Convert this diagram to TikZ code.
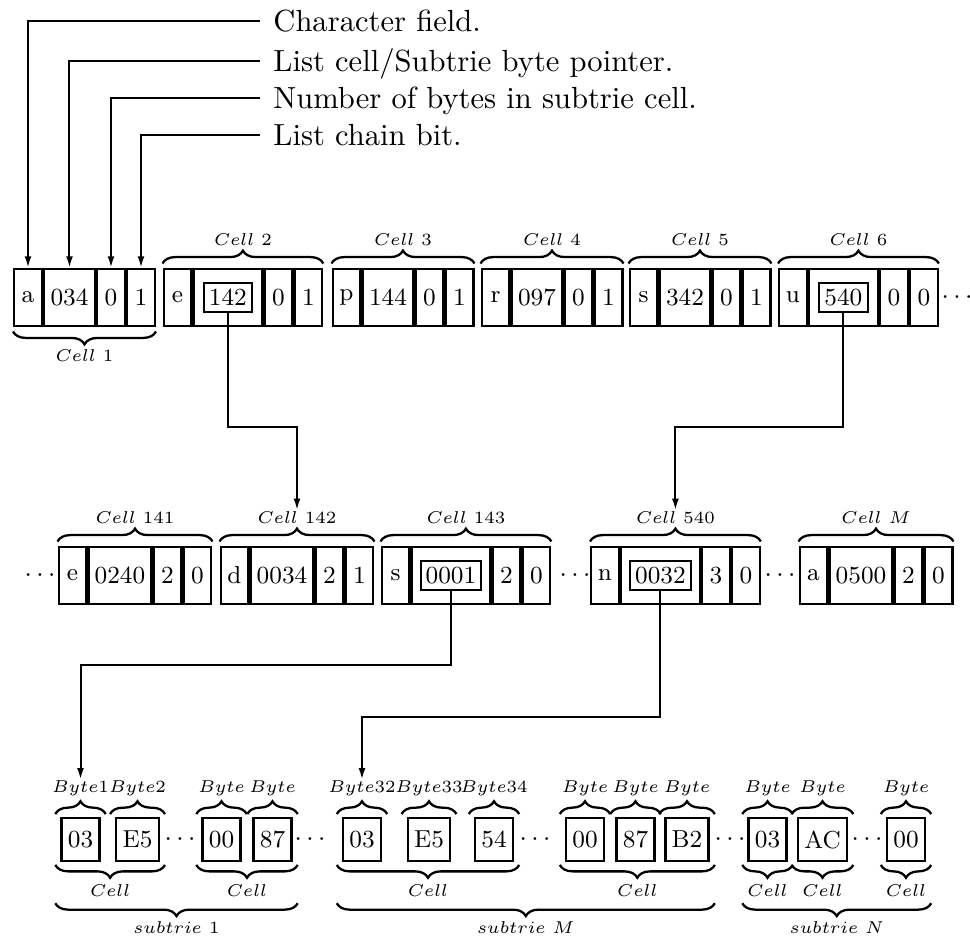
\documentclass[tikz,border=0pt]{standalone}
\usepackage{tikz}
\usetikzlibrary{arrows.meta,positioning,decorations.pathreplacing}

\begin{document}
\begin{tikzpicture}[
  x=0.35pt, y=-0.35pt,
  fld/.style={draw,line width=0.8pt,minimum height=20pt,inner sep=0pt,font=\fontsize{8.6}{10}\selectfont},
  chr/.style={fld,minimum width=9.7pt},
  ptr/.style={fld,minimum width=17.75pt},
  ptrw/.style={fld,minimum width=24pt},
  lptr/.style={fld,minimum width=21.95pt},
  lptrw/.style={fld,minimum width=27.5pt},
  inbox/.style={draw,line width=0.8pt,minimum width=17pt,minimum height=10pt,inner sep=0pt,font=\fontsize{8.6}{10}\selectfont},
  byte/.style={draw,line width=0.8pt,minimum width=13.2pt,minimum height=15pt,inner xsep=2.2pt,font=\fontsize{8.6}{10}\selectfont},
  dots/.style={inner sep=0pt,font=\fontsize{8.6}{10}\selectfont},
  note/.style={anchor=west,inner xsep=4.5pt,inner ysep=0pt,text height=7.5pt,text depth=0pt,font=\fontsize{10.7}{13}\selectfont},
  lbl/.style={inner sep=0pt,font=\fontsize{6}{7}\selectfont},
  brc/.style={decorate,decoration={brace,amplitude=4.5pt,raise=#1},line width=0.8pt},
  brc/.default=1.5pt,
  arr/.style={-{Latex[length=4pt,width=2.4pt]},line width=0.7pt}
]
  \useasboundingbox (0,0) rectangle (970,939);

  % row 1: list cells
  \node[chr] (c1a) at (28,297.5) {a};
  \node[ptr,right=0pt of c1a] (c1p) {034};
  \node[chr,right=0pt of c1p] (c1n) {0};
  \node[chr,right=0pt of c1n] (c1b) {1};

  \node[chr] (c2a) at (177.5,297.5) {e};
  \node[ptrw,right=0pt of c2a] (c2p) {};
  \node[inbox] (p142) at (c2p) {142};
  \node[chr,right=0pt of c2p] (c2n) {0};
  \node[chr,right=0pt of c2n] (c2b) {1};

  \node[chr] (c3a) at (346.5,297.5) {p};
  \node[ptr,right=0pt of c3a] (c3p) {144};
  \node[chr,right=0pt of c3p] (c3n) {0};
  \node[chr,right=0pt of c3n] (c3b) {1};

  \node[chr] (c4a) at (495.5,297.5) {r};
  \node[ptr,right=0pt of c4a] (c4p) {097};
  \node[chr,right=0pt of c4p] (c4n) {0};
  \node[chr,right=0pt of c4n] (c4b) {1};

  \node[chr] (c5a) at (643.5,297.5) {s};
  \node[ptr,right=0pt of c5a] (c5p) {342};
  \node[chr,right=0pt of c5p] (c5n) {0};
  \node[chr,right=0pt of c5n] (c5b) {1};

  \node[chr] (c6a) at (793,297.5) {u};
  \node[ptrw,right=0pt of c6a] (c6p) {};
  \node[inbox] (p540) at (c6p) {540};
  \node[chr,right=0pt of c6p] (c6n) {0};
  \node[chr,right=0pt of c6n] (c6b) {0};
  \node[dots] (d1) at (957,297.5) {$\cdots$};

  \draw[brc] (c1b.south east) -- (c1a.south west) node[lbl,midway,below=7.5pt] (l1) {$Cell\ 1$};
  \draw[brc] (c2a.north west) -- (c2b.north east) node[lbl,midway,above=7.5pt] (l2) {$Cell\ 2$};
  \draw[brc] (c3a.north west) -- (c3b.north east) node[lbl,midway,above=7.5pt] (l3) {$Cell\ 3$};
  \draw[brc] (c4a.north west) -- (c4b.north east) node[lbl,midway,above=7.5pt] (l4) {$Cell\ 4$};
  \draw[brc] (c5a.north west) -- (c5b.north east) node[lbl,midway,above=7.5pt] (l5) {$Cell\ 5$};
  \draw[brc] (c6a.north west) -- (c6b.north east) node[lbl,midway,above=7.5pt] (l6) {$Cell\ 6$};

  % field notes
  \node[note] (n1) at (260,21) {Character field.};
  \node[note] (n2) at (260,61) {List cell/Subtrie byte pointer.};
  \node[note] (n3) at (260,98) {Number of bytes in subtrie cell.};
  \node[note] (n4) at (260,135) {List chain bit.};
  \draw[arr] (n1.west) -| (c1a.north);
  \draw[arr] (n2.west) -| (c1p.north);
  \draw[arr] (n3.west) -| (c1n.north);
  \draw[arr] (n4.west) -| (c1b.north);

  % row 2: subtrie cells
  \node[dots] (d2) at (40,575.5) {$\cdots$};
  \node[chr] (e1a) at (72.5,575.5) {e};
  \node[lptr,right=0pt of e1a] (e1p) {0240};
  \node[chr,right=0pt of e1p] (e1n) {2};
  \node[chr,right=0pt of e1n] (e1b) {0};

  \node[chr] (e2a) at (234.5,575.5) {d};
  \node[lptr,right=0pt of e2a] (e2p) {0034};
  \node[chr,right=0pt of e2p] (e2n) {2};
  \node[chr,right=0pt of e2n] (e2b) {1};

  \node[chr] (e3a) at (395.5,575.5) {s};
  \node[lptrw,right=0pt of e3a] (e3p) {};
  \node[inbox,minimum width=21.2pt] (p0001) at (e3p) {0001};
  \node[chr,right=0pt of e3p] (e3n) {2};
  \node[chr,right=0pt of e3n] (e3b) {0};
  \node[dots] (d3) at (575,575.5) {$\cdots$};

  \node[chr] (e4a) at (605,575.5) {n};
  \node[lptrw,right=0pt of e4a] (e4p) {};
  \node[inbox,minimum width=21.2pt] (p0032) at (e4p) {0032};
  \node[chr,right=0pt of e4p] (e4n) {3};
  \node[chr,right=0pt of e4n] (e4b) {0};
  \node[dots] (d4) at (780,575.5) {$\cdots$};

  \node[chr] (e5a) at (813.5,575.5) {a};
  \node[lptr,right=0pt of e5a] (e5p) {0500};
  \node[chr,right=0pt of e5p] (e5n) {2};
  \node[chr,right=0pt of e5n] (e5b) {0};

  \draw[brc] (e1a.north west) -- (e1b.north east) node[lbl,midway,above=7.5pt] (l141) {$Cell\ 141$};
  \draw[brc] (e2a.north west) -- (e2b.north east) node[lbl,midway,above=7.5pt] (l142) {$Cell\ 142$};
  \draw[brc] (e3a.north west) -- (e3b.north east) node[lbl,midway,above=7.5pt] (l143) {$Cell\ 143$};
  \draw[brc] (e4a.north west) -- (e4b.north east) node[lbl,midway,above=7.5pt] (l540) {$Cell\ 540$};
  \draw[brc] (e5a.north west) -- (e5b.north east) node[lbl,midway,above=7.5pt] (lM) {$Cell\ M$};

  % row 3: subtrie bytes
  \node[byte] (s1a) at (80.5,839.5) {03};
  \node[byte] (s1b) at (137.5,839.5) {E5};
  \node[dots] (d5) at (180,839.5) {$\cdots$};
  \node[byte] (s1c) at (221.5,839.5) {00};
  \node[byte] (s1d) at (272.5,839.5) {87};
  \node[dots] (d6) at (310,839.5) {$\cdots$};
  \node[byte] (sMa) at (362,839.5) {03};
  \node[byte] (sMb) at (429,839.5) {E5};
  \node[byte] (sMc) at (494,839.5) {54};
  \node[dots] (d7) at (535,839.5) {$\cdots$};
  \node[byte] (sMd) at (585,839.5) {00};
  \node[byte] (sMe) at (635.5,839.5) {87};
  \node[byte] (sMf) at (687,839.5) {B2};
  \node[dots] (d8) at (730,839.5) {$\cdots$};
  \node[byte] (sNa) at (767.5,839.5) {03};
  \node[byte] (sNb) at (822.5,839.5) {AC};
  \node[dots] (d9) at (867,839.5) {$\cdots$};
  \node[byte] (sNc) at (906,839.5) {00};

  \foreach \b/\t in {s1a/Byte1,s1b/Byte2,s1c/Byte,s1d/Byte,sMa/Byte32,sMb/Byte33,sMc/Byte34,sMd/Byte,sMe/Byte,sMf/Byte,sNa/Byte,sNb/Byte,sNc/Byte}
    \draw[brc=1pt] ([xshift=-1.8pt]\b.north west) -- ([xshift=1.8pt]\b.north east)
      node[lbl,midway,above=7pt] (lb-\b) {$\t$};
  \foreach \f/\g in {s1a/s1b,s1c/s1d,sMa/sMc,sMd/sMf,sNa/sNa,sNb/sNb,sNc/sNc}
    \draw[brc=1pt] ([xshift=1.8pt]\g.south east) -- ([xshift=-1.8pt]\f.south west)
      node[lbl,midway,below=7.5pt] {$Cell$};
  \foreach \f/\g/\t in {s1a/s1d/1,sMa/sMf/M,sNa/sNc/N}
    \draw[brc=14.4pt] ([xshift=1.8pt]\g.south east) -- ([xshift=-1.8pt]\f.south west)
      node[lbl,midway,below=20.5pt] {$subtrie\ \t$};

  % pointers
  \draw[arr] (p142.south) -- ++(0,114) -| (l142.north);
  \draw[arr] (p540.south) -- ++(0,114) -| (l540.north);
  \draw[arr] (p0001.south) -- ++(0,74) -| (lb-s1a.north);
  \draw[arr] (p0032.south) -- ++(0,126) -| (lb-sMa.north);
\end{tikzpicture}
\end{document}
